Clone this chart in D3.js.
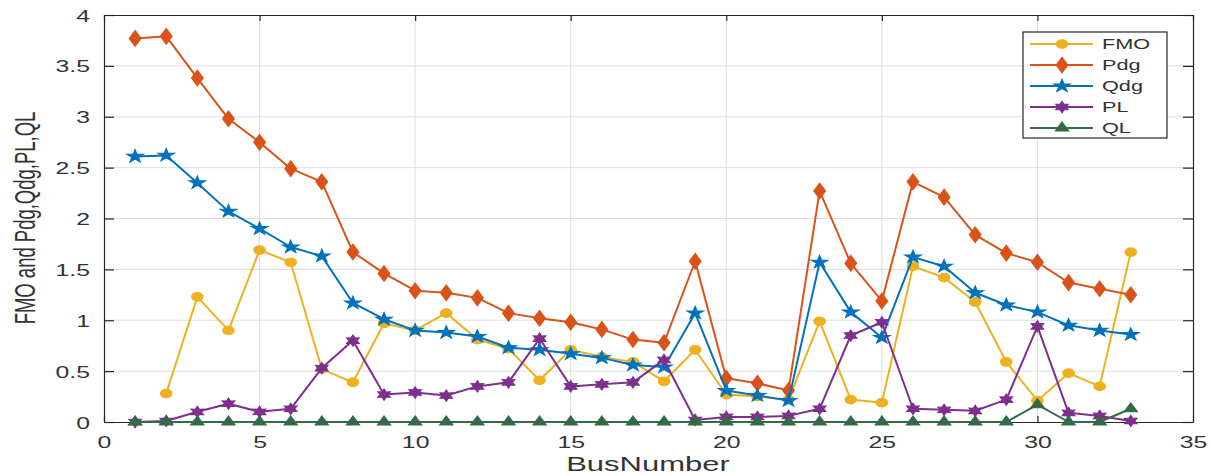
<!DOCTYPE html>
<html>
<head>
<meta charset="utf-8">
<script src="https://cdn.jsdelivr.net/npm/d3@7"></script>
<style>
  html, body { margin: 0; padding: 0; background: #fff; }
  svg { display: block; }
  text { font-family: "Liberation Sans", Arial, Helvetica, sans-serif; fill: #333; }
</style>
</head>
<body>
<svg id="chart" width="1212" height="476"></svg>
<script>
// ---- data ----
const busNumbers = d3.range(1, 34);
const seriesNames = ["FMO", "Pdg", "Qdg", "PL", "QL"];
const fmoValues = [null, 0.28, 1.23, 0.90, 1.69, 1.57, 0.52, 0.39, 0.97, 0.90, 1.07, 0.81, 0.72, 0.41, 0.71, 0.64, 0.59, 0.40, 0.71, 0.27, 0.25, 0.22, 0.99, 0.22, 0.19, 1.53, 1.42, 1.18, 0.59, 0.21, 0.48, 0.35, 1.67];
const pdgValues = [3.77, 3.79, 3.38, 2.98, 2.75, 2.49, 2.36, 1.67, 1.46, 1.29, 1.27, 1.22, 1.07, 1.02, 0.98, 0.91, 0.81, 0.78, 1.58, 0.43, 0.38, 0.31, 2.27, 1.56, 1.19, 2.36, 2.21, 1.84, 1.66, 1.57, 1.37, 1.31, 1.25];
const qdgValues = [2.61, 2.62, 2.35, 2.07, 1.90, 1.72, 1.63, 1.17, 1.01, 0.90, 0.88, 0.84, 0.73, 0.71, 0.67, 0.63, 0.56, 0.54, 1.07, 0.31, 0.26, 0.21, 1.57, 1.08, 0.83, 1.62, 1.53, 1.27, 1.15, 1.08, 0.95, 0.90, 0.86];
const plValues = [0.00, 0.01, 0.10, 0.18, 0.10, 0.13, 0.53, 0.80, 0.27, 0.29, 0.26, 0.35, 0.39, 0.82, 0.35, 0.37, 0.39, 0.61, 0.02, 0.05, 0.05, 0.06, 0.13, 0.85, 0.98, 0.13, 0.12, 0.11, 0.22, 0.94, 0.09, 0.06, 0.01];
const qlValues = [0, 0, 0, 0, 0, 0, 0, 0, 0, 0, 0, 0, 0, 0, 0, 0, 0, 0, 0, 0, 0, 0, 0, 0, 0, 0, 0, 0, 0, 0.17, 0, 0, 0.13];
const xTicks = [0, 5, 10, 15, 20, 25, 30, 35];
const yTicks = [0, 0.5, 1, 1.5, 2, 2.5, 3, 3.5, 4];
const xLabel = "BusNumber";
const yLabel = "FMO and Pdg,Qdg,PL,QL";

// ---- styles ----
const colors = { FMO: "#EDB120", Pdg: "#D95319", Qdg: "#0072BD", PL: "#7E2F8E", QL: "#336b47" };
const SX = 1.55; // horizontal stretch of the reference

const hexagram = {
  draw(ctx, size) {
    const R = Math.sqrt(size) * 0.75, r = R * 0.55;
    for (let i = 0; i < 12; i++) {
      const a = -Math.PI / 2 + i * Math.PI / 6;
      const rr = i % 2 === 0 ? R : r;
      const x = rr * Math.cos(a), y = rr * Math.sin(a);
      if (i === 0) ctx.moveTo(x, y); else ctx.lineTo(x, y);
    }
    ctx.closePath();
  }
};
const symbols = {
  FMO: d3.symbol().type(d3.symbolCircle).size(60),
  Pdg: d3.symbol().type(d3.symbolDiamond).size(70),
  Qdg: d3.symbol().type(d3.symbolStar).size(50),
  PL: d3.symbol().type(hexagram).size(55),
  QL: d3.symbol().type(d3.symbolTriangle).size(45)
};

const series = [
  { name: "FMO", values: fmoValues },
  { name: "Pdg", values: pdgValues },
  { name: "Qdg", values: qdgValues },
  { name: "PL", values: plValues },
  { name: "QL", values: qlValues }
];

const margin = { left: 104, right: 1193, top: 15, bottom: 422 };
const x = d3.scaleLinear().domain([0, 35]).range([margin.left, margin.right]);
const y = d3.scaleLinear().domain([0, 4]).range([margin.bottom, margin.top]);

const svg = d3.select("#chart");

// grid
const grid = svg.append("g");
grid.selectAll("line.gx").data(xTicks.slice(1, -1)).join("line")
  .attr("x1", d => x(d)).attr("x2", d => x(d))
  .attr("y1", margin.top).attr("y2", margin.bottom)
  .attr("stroke", "#dedede").attr("stroke-width", 1);
grid.selectAll("line.gy").data(yTicks.slice(1, -1)).join("line")
  .attr("y1", d => y(d)).attr("y2", d => y(d))
  .attr("x1", margin.left).attr("x2", margin.right)
  .attr("stroke", "#dedede").attr("stroke-width", 1);

// axes via d3 (tick marks inside)
const axisColor = "#262626";
function styleAxis(g) {
  g.select(".domain").attr("stroke", axisColor).attr("stroke-width", 1.2);
  g.selectAll(".tick line").attr("stroke", axisColor).attr("stroke-width", 1.2);
}
const xAxisBottom = svg.append("g").attr("transform", `translate(0,${margin.bottom})`)
  .call(d3.axisBottom(x).tickValues(xTicks).tickSizeInner(-6).tickSizeOuter(0).tickFormat(d3.format("d")));
xAxisBottom.call(styleAxis);
xAxisBottom.selectAll(".tick text")
  .attr("y", 0).attr("dy", 0)
  .attr("font-size", 16).attr("text-anchor", "middle")
  .attr("transform", "translate(0,26) scale(" + SX + ",1)")
  .style("fill", "#333");

const xAxisTop = svg.append("g").attr("transform", `translate(0,${margin.top})`)
  .call(d3.axisTop(x).tickValues(xTicks).tickSizeInner(-6).tickSizeOuter(0).tickFormat(""));
xAxisTop.call(styleAxis);

const yAxisLeft = svg.append("g").attr("transform", `translate(${margin.left},0)`)
  .call(d3.axisLeft(y).tickValues(yTicks).tickSizeInner(-10).tickSizeOuter(0).tickFormat(d => String(d)));
yAxisLeft.call(styleAxis);
yAxisLeft.selectAll(".tick text")
  .attr("x", 0).attr("dy", 0)
  .attr("font-size", 16).attr("text-anchor", "end")
  .attr("transform", "translate(-14,6) scale(" + SX + ",1)")
  .style("fill", "#333");

const yAxisRight = svg.append("g").attr("transform", `translate(${margin.right},0)`)
  .call(d3.axisRight(y).tickValues(yTicks).tickSizeInner(-10).tickSizeOuter(0).tickFormat(""));
yAxisRight.call(styleAxis);

// series
const line = d3.line()
  .defined(d => d.v !== null)
  .x(d => x(d.bus)).y(d => y(d.v));

const plot = svg.append("g");
series.forEach(s => {
  const pts = busNumbers.map((b, i) => ({ bus: b, v: s.values[i] }));
  const g = plot.append("g");
  g.append("path").datum(pts)
    .attr("d", line)
    .attr("fill", "none")
    .attr("stroke", colors[s.name])
    .attr("stroke-width", 2)
    .attr("stroke-linejoin", "round");
  g.selectAll("path.m").data(pts.filter(d => d.v !== null)).join("path")
    .attr("class", "m")
    .attr("d", symbols[s.name])
    .attr("transform", d => `translate(${x(d.bus)},${y(d.v)}) scale(1.3,1)`)
    .attr("fill", colors[s.name])
    .attr("stroke", colors[s.name])
    .attr("stroke-width", 1);
});

// legend
const legend = svg.append("g");
legend.append("rect")
  .attr("x", 1023).attr("y", 32).attr("width", 144).attr("height", 106)
  .attr("fill", "#fff").attr("stroke", axisColor).attr("stroke-width", 1.2);
series.forEach((s, i) => {
  const ly = 44 + i * 21;
  legend.append("line")
    .attr("x1", 1030).attr("x2", 1093).attr("y1", ly).attr("y2", ly)
    .attr("stroke", colors[s.name]).attr("stroke-width", 2);
  legend.append("path")
    .attr("d", symbols[s.name])
    .attr("transform", `translate(1062,${ly}) scale(1.3,1)`)
    .attr("fill", colors[s.name]).attr("stroke", colors[s.name]);
  legend.append("text")
    .attr("transform", `translate(1102,${ly + 5}) scale(${SX},1)`)
    .attr("font-size", 14)
    .text(s.name);
});

// axis labels
svg.append("text")
  .attr("transform", `translate(648,471) scale(${SX},1)`)
  .attr("text-anchor", "middle")
  .attr("font-size", 20)
  .text(xLabel);

svg.append("text")
  .attr("transform", `translate(35,218) scale(${SX},1) rotate(-90)`)
  .attr("text-anchor", "middle")
  .attr("font-size", 18.5)
  .text(yLabel);
</script>
</body>
</html>
